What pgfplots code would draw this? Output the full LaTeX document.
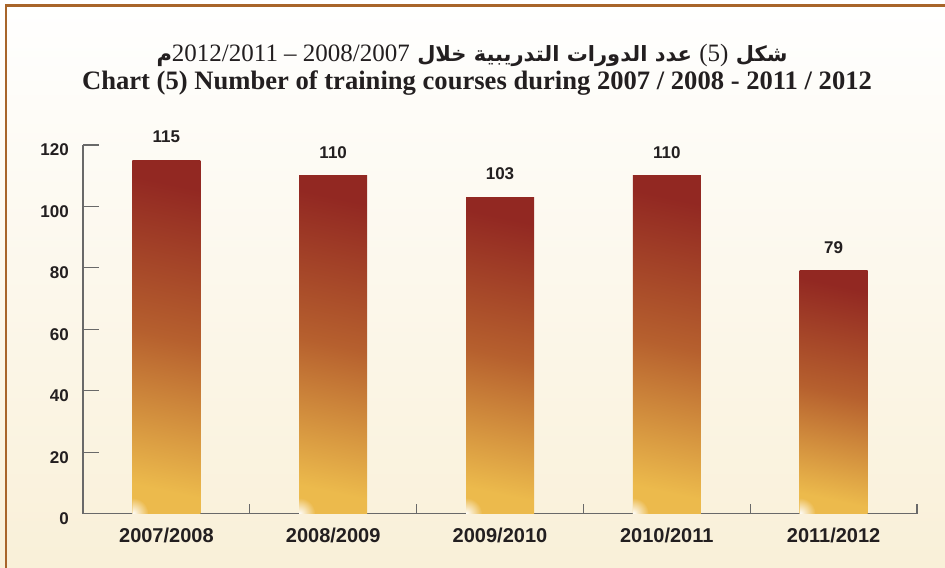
\documentclass[border=0pt]{standalone}
\usepackage{fontspec}
\usepackage{pgfplots}
\pgfplotsset{compat=1.18}
\usetikzlibrary{fadings}
\tikzfading[name=glint, inner color=transparent!0, outer color=transparent!100]
\setmainfont{Liberation Sans}
\newfontfamily\titlefont{Liberation Serif}
\newfontfamily\arabicfont[Script=Arabic]{DejaVu Sans}
\TeXXeTstate=1
\definecolor{frame}{RGB}{168,101,42}
\definecolor{bartop}{RGB}{146,40,34}
\definecolor{barmid}{RGB}{182,96,46}
\definecolor{barbot}{RGB}{236,186,76}
\definecolor{bgbot}{RGB}{249,240,216}
\definecolor{axisgray}{RGB}{105,105,105}
\definecolor{txt}{RGB}{35,31,32}
\newcommand\numfont{\titlefont\mdseries\fontsize{25bp}{30bp}\selectfont}
\pgfplotsset{barsty/.style={draw=none, bar shift=0pt, top color=bartop, bottom color=barbot, middle color=barmid, shading angle=-12}}
\begin{document}
\begin{tikzpicture}
\useasboundingbox (0,0) rectangle (945bp,568bp);
\shade[top color=white, bottom color=bgbot] (0,0) rectangle (945bp,568bp);
\draw[frame, line width=2.5bp] (6bp,0) -- (6bp,562.5bp) -- (945bp,562.5bp);
\node[anchor=base, text=txt, inner sep=0] at (477bp,478.7bp)
  {\titlefont\bfseries\fontsize{26.6bp}{30bp}\selectfont Chart (5) Number of training courses during 2007 / 2008 - 2011 / 2012};
\node[anchor=base, text=txt, inner sep=0] at (472bp,506.5bp)
  {\arabicfont\bfseries\fontsize{21bp}{25bp}\selectfont\beginR شكل \beginL{\numfont(5)}\endL{} عدد الدورات التدريبية خلال \beginL{\numfont 2012/2011 – 2008/2007}\endL{}م\endR};
\begin{axis}[
  at={(83bp,54.3bp)}, anchor=south west,
  scale only axis, width=834bp, height=368.7bp,
  xmin=-0.5, xmax=4.5, ymin=0, ymax=120,
  axis x line*=bottom, axis y line*=left,
  axis line style={-, axisgray, line width=1.3bp},
  xtick={0,...,4},
  xticklabels={2007/2008,2008/2009,2009/2010,2010/2011,2011/2012},
  x tick style={draw=none},
  ytick={0,20,...,120},
  y tick style={axisgray, line width=1.2bp},
  tick align=inside, major tick length=16bp,
  x tick label style={font=\fontsize{20bp}{24bp}\selectfont\bfseries, text=txt, anchor=north, inner sep=0, yshift=2bp},
  y tick label style={font=\fontsize{17bp}{20bp}\selectfont\bfseries, text=txt, anchor=east, inner sep=0, xshift=-14bp, yshift=-5bp},
  /pgf/number format/assume math mode=true,
  clip=false,
  ybar, bar width=68bp,
  nodes near coords,
  nodes near coords style={font=\fontsize{17bp}{20bp}\selectfont\bfseries, text=txt, anchor=south, inner sep=0, yshift=17bp},
]
\addplot[barsty] coordinates {(0,115)};
\addplot[barsty] coordinates {(1,110)};
\addplot[barsty] coordinates {(2,103)};
\addplot[barsty] coordinates {(3,110)};
\addplot[barsty] coordinates {(4,79)};
\foreach \t in {0.5,1.5,2.5,3.5,4.5}{
  \edef\tmp{\noexpand\draw[axisgray, line width=1.2bp] (axis cs:\t,0) -- ([yshift=10bp]axis cs:\t,0);}\tmp
}
\foreach \i in {0,1,2,3,4}{
  \edef\tmp{\noexpand\begin{scope}
    \noexpand\clip ([xshift=-34bp]axis cs:\i,0) rectangle ([xshift=34bp,yshift=30bp]axis cs:\i,0);
    \noexpand\fill[white, path fading=glint] ([xshift=-34bp]axis cs:\i,0) circle (16bp);
    \noexpand\end{scope}}\tmp
}
\end{axis}
\end{tikzpicture}
\end{document}
